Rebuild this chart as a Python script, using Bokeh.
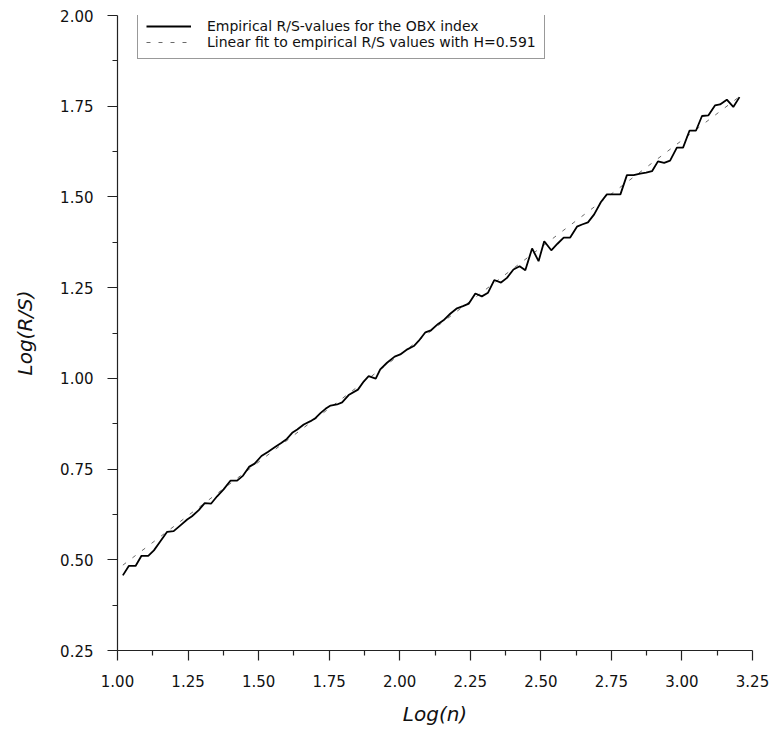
from bokeh.plotting import figure
from bokeh.models import Range1d, FixedTicker, Legend, LegendItem, PrintfTickFormatter
from bokeh.embed import file_html
from bokeh.resources import INLINE

# Empirical rescaled-range values for the OBX index, log10 scale
log_n = [
    1.019, 1.040, 1.064, 1.085, 1.109, 1.129, 1.152, 1.176, 1.199, 1.223,
    1.247, 1.264, 1.288, 1.309, 1.332, 1.353, 1.376, 1.400, 1.424, 1.445,
    1.466, 1.486, 1.510, 1.534, 1.557, 1.580, 1.600, 1.619, 1.637, 1.660,
    1.684, 1.702, 1.720, 1.737, 1.755, 1.778, 1.796, 1.819, 1.852, 1.873,
    1.890, 1.915, 1.931, 1.955, 1.982, 2.002, 2.027, 2.050, 2.067, 2.091,
    2.110, 2.136, 2.155, 2.179, 2.203, 2.224, 2.245, 2.268, 2.291, 2.313,
    2.335, 2.359, 2.380, 2.403, 2.425, 2.445, 2.469, 2.492, 2.512, 2.537,
    2.559, 2.581, 2.604, 2.628, 2.646, 2.667, 2.689, 2.713, 2.734, 2.758,
    2.782, 2.805, 2.829, 2.852, 2.873, 2.894, 2.915, 2.937, 2.958, 2.982,
    3.004, 3.027, 3.050, 3.071, 3.094, 3.117, 3.135, 3.159, 3.182, 3.204,
]
log_rs = [
    0.457, 0.483, 0.483, 0.511, 0.511, 0.526, 0.551, 0.577, 0.579, 0.595,
    0.611, 0.620, 0.637, 0.656, 0.655, 0.675, 0.694, 0.718, 0.718, 0.732,
    0.756, 0.765, 0.786, 0.798, 0.810, 0.822, 0.833, 0.850, 0.859, 0.873,
    0.882, 0.891, 0.905, 0.916, 0.925, 0.928, 0.934, 0.954, 0.969, 0.992,
    1.006, 0.999, 1.025, 1.043, 1.060, 1.066, 1.080, 1.089, 1.103, 1.127,
    1.132, 1.150, 1.160, 1.178, 1.193, 1.199, 1.206, 1.234, 1.226, 1.236,
    1.271, 1.264, 1.277, 1.300, 1.309, 1.298, 1.358, 1.323, 1.378, 1.353,
    1.371, 1.388, 1.388, 1.418, 1.424, 1.430, 1.452, 1.486, 1.507, 1.507,
    1.507, 1.560, 1.560, 1.564, 1.567, 1.571, 1.598, 1.594, 1.600, 1.636,
    1.636, 1.683, 1.683, 1.723, 1.725, 1.752, 1.755, 1.768, 1.748, 1.775,
]

# Least-squares line: slope is the Hurst exponent
hurst = 0.591
intercept = -0.117
fit_x = [log_n[0], log_n[-1]]
fit_y = [hurst * x + intercept for x in fit_x]

x_ticks = [1.00, 1.25, 1.50, 1.75, 2.00, 2.25, 2.50, 2.75, 3.00, 3.25]
x_minor = [1.125, 1.375, 1.625, 1.875, 2.125, 2.375, 2.625, 2.875, 3.125]
y_ticks = [0.25, 0.50, 0.75, 1.00, 1.25, 1.50, 1.75, 2.00]
y_minor = [0.375, 0.625, 0.875, 1.125, 1.375, 1.625, 1.875]

FONT = "DejaVu Sans"

p = figure(
    width=772, height=734,
    output_backend="svg", toolbar_location=None,
    x_range=Range1d(1.0, 3.25), y_range=Range1d(0.25, 2.0),
    min_border_left=117, min_border_right=20,
    min_border_top=15, min_border_bottom=84,
)
p.outline_line_color = None
p.grid.visible = False
p.background_fill_color = "white"
p.border_fill_color = "white"

fit_r = p.line(fit_x, fit_y, line_color="#6a6a6a", line_width=1, line_dash="4 8")
emp_r = p.line(log_n, log_rs, line_color="black", line_width=1.8)

for ax, ticks, minor in ((p.xaxis[0], x_ticks, x_minor), (p.yaxis[0], y_ticks, y_minor)):
    ax.ticker = FixedTicker(ticks=ticks, minor_ticks=minor)
    ax.formatter = PrintfTickFormatter(format="%.2f")
    ax.axis_line_color = "#222222"
    ax.axis_line_width = 1.2
    ax.major_tick_line_color = "#222222"
    ax.major_tick_line_width = 1.2
    ax.minor_tick_line_color = "#222222"
    ax.minor_tick_line_width = 1.2
    ax.major_tick_out = 10
    ax.major_tick_in = 0
    ax.minor_tick_out = 5
    ax.minor_tick_in = 0
    ax.major_label_text_font = FONT
    ax.major_label_text_font_size = "15px"
    ax.major_label_text_color = "#111111"
    ax.axis_label_text_font = FONT
    ax.axis_label_text_font_size = "20px"
    ax.axis_label_text_font_style = "italic"
    ax.axis_label_text_color = "#111111"

p.xaxis.axis_label = "Log(n)"
p.yaxis.axis_label = "Log(R/S)"
p.xaxis.major_label_standoff = 14
p.xaxis.axis_label_standoff = 12
p.yaxis.major_label_standoff = 14
p.yaxis.axis_label_standoff = 20

legend = Legend(
    items=[
        LegendItem(label="Empirical R/S-values for the OBX index", renderers=[emp_r]),
        LegendItem(label="Linear fit to empirical R/S values with H=0.591", renderers=[fit_r]),
    ],
    location=(20, 635 - 44),
    label_text_font=FONT,
    label_text_font_size="14px",
    label_text_color="#111111",
    glyph_width=45, glyph_height=14, label_height=14,
    padding=8, spacing=0, margin=0, label_standoff=16,
    border_line_color="#333333", border_line_width=1,
    background_fill_color="white", background_fill_alpha=1,
)
p.add_layout(legend)

open("out.html", "w").write(file_html(p, INLINE))
